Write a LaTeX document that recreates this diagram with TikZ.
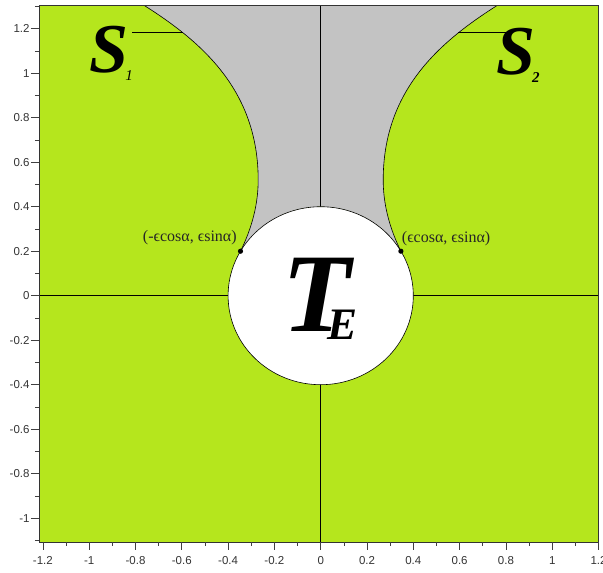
\documentclass[tikz,border=0pt]{standalone}
\usepackage{fontspec}
\setmainfont{Liberation Serif}
\newfontfamily\ticksf{Liberation Sans}
\definecolor{limegreen}{RGB}{181,230,29}
\definecolor{greyfill}{RGB}{195,195,195}
\tikzset{
  curve/.style={draw=black, line width=0.6pt},
  axisline/.style={draw=black, line width=0.7pt},
  frameline/.style={draw=black!80, line width=0.8pt},
  tickline/.style={draw=black!75, line width=0.6pt},
  ticklabel/.style={font=\ticksf\fontsize{11.5}{12}\selectfont, text=black!80, inner sep=0pt},
  ptlabel/.style={font=\fontsize{16}{16}\selectfont, text=black!85, inner sep=0pt},
  biglabel/.style={anchor=base west, inner sep=0pt, font=\bfseries\itshape}
}
\begin{document}
\begin{tikzpicture}[x=231.5pt,y=222.5pt]
\useasboundingbox (-1.3853,-1.2418) rectangle (1.2194,1.329);
% background plot area
\fill[limegreen] (-1.217,-1.107) rectangle (1.2,1.303);
% gray region
\fill[greyfill] (-0.3464,0.2) .. controls (-0.2955,0.3074) and (-0.27,0.414) .. (-0.27,0.52)
  .. controls (-0.27,0.92) and (-0.51,1.138) .. (-0.76,1.303)
  -- (0.76,1.303) .. controls (0.51,1.138) and (0.27,0.92) .. (0.27,0.52)
  .. controls (0.27,0.414) and (0.2955,0.3074) .. (0.3464,0.2)
  arc[start angle=30, end angle=150, x radius=92.6pt, y radius=89pt] -- cycle;
% axes
\draw[axisline] (-1.217,0) -- (1.2,0);
\draw[axisline] (0,-1.107) -- (0,1.303);
% circle
\draw[curve, fill=white] (0,0) ellipse [x radius=92.6pt, y radius=89pt];
% points
\coordinate (pL) at (-0.3464,0.2);
\coordinate (pR) at (0.3464,0.2);
% curves S1, S2
\draw[curve] (pL) .. controls (-0.2955,0.3074) and (-0.27,0.414) .. (-0.27,0.52)
  .. controls (-0.27,0.92) and (-0.51,1.138) .. (-0.76,1.303);
\draw[curve] (pR) .. controls (0.2955,0.3074) and (0.27,0.414) .. (0.27,0.52)
  .. controls (0.27,0.92) and (0.51,1.138) .. (0.76,1.303);
\fill[black] (pL) circle[radius=2.6pt];
\fill[black] (pR) circle[radius=2.6pt];
\node[ptlabel, anchor=east] (labL) at (-0.362,0.262) {(-ϵcosα, ϵsinα)};
\node[ptlabel, anchor=west] (labR) at (0.35,0.258) {(ϵcosα, ϵsinα)};
% S labels and leaders
\coordinate (c1) at (-0.595,1.184);
\coordinate (l1) at (-0.816,1.184);
\coordinate (c2) at (0.595,1.184);
\coordinate (l2) at (0.818,1.184);
\draw[curve] (c1) -- (l1);
\draw[curve] (c2) -- (l2);
\node[biglabel] (S1) at (-1.0,1.005) {\fontsize{70}{70}\selectfont S\kern-3pt\raisebox{-8pt}{\fontsize{15}{15}\selectfont\mdseries 1}};
\node[biglabel] (S2) at (0.757,0.992) {\fontsize{70}{70}\selectfont S\kern-3pt\raisebox{-8pt}{\fontsize{15}{15}\selectfont 2}};
% T_E
\node[biglabel] (TE) at (-0.167,-0.163) {\fontsize{112}{112}\selectfont T\kern-23pt\raisebox{-8pt}{\fontsize{45}{45}\selectfont E}};
% frame
\draw[frameline] (-1.217,-1.107) rectangle (1.2,1.303);
% y ticks
\foreach \v in {-1.1,-0.9,-0.7,-0.5,-0.3,-0.1,0.1,0.3,0.5,0.7,0.9,1.1,1.3}
  \draw[tickline] (-1.235,\v) -- (-1.217,\v);
\foreach \v/\t [count=\i] in {-1/-1,-0.8/-0.8,-0.6/-0.6,-0.4/-0.4,-0.2/-0.2,0/0,0.2/0.2,0.4/0.4,0.6/0.6,0.8/0.8,1/1,1.2/1.2}{
  \draw[tickline] (-1.252,\v) -- (-1.217,\v);
  \node[ticklabel, anchor=east] (yl\i) at (-1.257,\v) {\t};
}
% x ticks
\foreach \v in {-1.1,-0.9,-0.7,-0.5,-0.3,-0.1,0.1,0.3,0.5,0.7,0.9,1.1}
  \draw[tickline] (\v,-1.107) -- (\v,-1.125);
\foreach \v/\t [count=\i] in {-1.2/-1.2,-1/-1,-0.8/-0.8,-0.6/-0.6,-0.4/-0.4,-0.2/-0.2,0/0,0.2/0.2,0.4/0.4,0.6/0.6,0.8/0.8,1/1,1.2/1.2}{
  \draw[tickline] (\v,-1.107) -- (\v,-1.143);
  \node[ticklabel] (xl\i) at (\v,-1.192) {\t};
}
\end{tikzpicture}
\end{document}
